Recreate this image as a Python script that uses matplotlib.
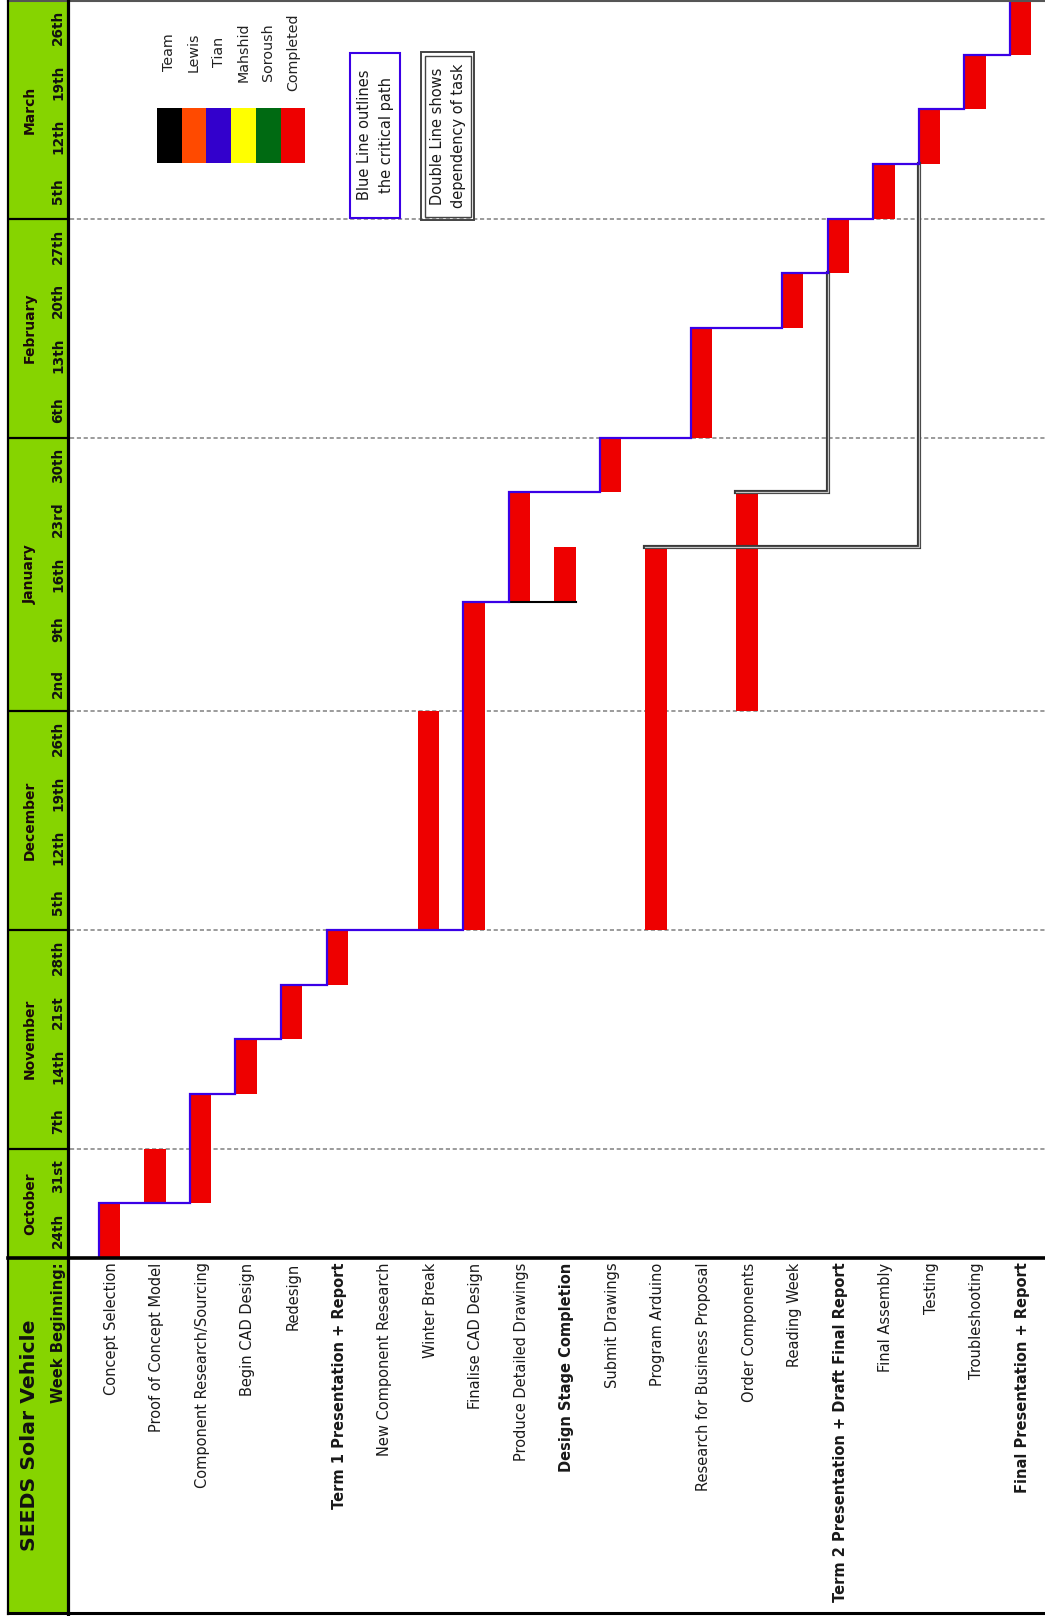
import numpy as np
import matplotlib.pyplot as plt
from matplotlib.patches import Rectangle

# data
months = ['October', 'November', 'December', 'January', 'February', 'March']
month_weeks = [['24th', '31st'],
               ['7th', '14th', '21st', '28th'],
               ['5th', '12th', '19th', '26th'],
               ['2nd', '9th', '16th', '23rd', '30th'],
               ['6th', '13th', '20th', '27th'],
               ['5th', '12th', '19th', '26th']]

tasks = ['Concept Selection', 'Proof of Concept Model', 'Component Research/Sourcing',
         'Begin CAD Design', 'Redesign', 'Term 1 Presentation + Report',
         'New Component Research', 'Winter Break', 'Finalise CAD Design',
         'Produce Detailed Drawings', 'Design Stage Completion', 'Submit Drawings',
         'Program Arduino', 'Research for Business Proposal', 'Order Components',
         'Reading Week', 'Term 2 Presentation + Draft Final Report', 'Final Assembly',
         'Testing', 'Troubleshooting', 'Final Presentation + Report']
start_week = [0, 1, 1, 3, 4, 5, 0, 6, 6, 12, 12, 14, 6, 15, 10, 17, 18, 19, 20, 21, 22]
duration = [1, 1, 2, 1, 1, 1, 0, 4, 6, 2, 1, 1, 7, 2, 4, 1, 1, 1, 1, 1, 1]
milestones = [5, 10, 16, 20]
critical_path = [0, 2, 3, 4, 5, 8, 9, 11, 13, 15, 16, 17, 18, 19, 20]
dependencies = [(12, 18), (14, 16)]

legend_names = ['Team', 'Lewis', 'Tian', 'Mahshid', 'Soroush', 'Completed']
legend_colors = ['#000000', '#ff4a00', '#3300cc', '#ffff00', '#006a12', '#ee0000']

W, H = 1045, 1616
GREEN = '#86d400'
RED = '#ee0000'
BLUE = '#3a00e6'
BAR_W = 0.47


def rect(x0, y0, x1, y1):
    # pixel box (top-left origin) -> figure fraction
    return [x0 / W, 1 - y1 / H, (x1 - x0) / W, (y1 - y0) / H]


fig = plt.figure(figsize=(W / 100, H / 100), dpi=100)

# main chart area
ax = fig.add_axes(rect(70, 0, W, 1258))
ax.set_xlim(-0.867, 20.538)
ax.set_ylim(0, 23)
ax.axis('off')

rows = np.arange(len(tasks))
starts = np.array(start_week, dtype=float)
durs = np.array(duration, dtype=float)
ends = starts + durs
left = rows - BAR_W / 2

bounds = np.cumsum([len(w) for w in month_weeks])
for b in bounds[:-1]:
    ax.axhline(b, color='#8a8a8a', lw=1.2, ls=(0, (2.5, 1.6)), zorder=1)

has = durs > 0
ax.bar(rows[has], durs[has], bottom=starts[has], width=BAR_W, color=RED, zorder=2)

# critical path
px, py = [], []
for t in critical_path:
    px += [left[t], left[t]]
    py += [starts[t], ends[t]]
ax.plot(px, py, color=BLUE, lw=1.6, zorder=4, solid_joinstyle='miter')

# black link under drawings / design stage
ax.plot([left[9], left[10] + BAR_W], [starts[9], starts[9]], color='black', lw=1.5, zorder=3.5)

# double dependency lines
for a, b in dependencies:
    xs = [left[a], left[b], left[b]]
    ys = [ends[a], ends[a], starts[b]]
    ax.plot(xs, ys, color='#3a3a3a', lw=3.0, zorder=3, solid_joinstyle='miter')
    ax.plot(xs, ys, color='#c4c4c4', lw=0.9, zorder=3.1, solid_joinstyle='miter')

# task labels
for i, name in enumerate(tasks):
    ax.text(i + 0.04, -0.08, name, rotation=90, ha='center', va='top',
            fontsize=10.5, color='#1a1a1a',
            fontweight='bold' if i in milestones else 'normal', clip_on=False)

# header column with months and weeks
hax = fig.add_axes(rect(8, 0, 68, 1258))
hax.set_facecolor(GREEN)
hax.set_xlim(0, 60)
hax.set_ylim(0, 23)
hax.set_xticks([])
hax.set_yticks([])
for s in hax.spines.values():
    s.set_visible(False)
k = 0
for m, wk in zip(months, month_weeks):
    hax.text(22, k + len(wk) / 2, m, rotation=90, ha='center', va='center',
             fontsize=10, fontweight='bold', color='#1a0a0a')
    for w in wk:
        hax.text(50, k + 0.5, w, rotation=90, ha='center', va='center',
                 fontsize=9.8, fontweight='bold', color='#111111')
        k += 1
for b in bounds[:-1]:
    hax.axhline(b, color='black', lw=1.6)

# title cell
tax = fig.add_axes(rect(8, 1258, 68, 1613))
tax.set_facecolor(GREEN)
tax.set_xlim(0, 60)
tax.set_ylim(355, 0)
tax.set_xticks([])
tax.set_yticks([])
for s in tax.spines.values():
    s.set_visible(False)
tax.text(22, 177, 'SEEDS Solar Vehicle', rotation=90, ha='center', va='center',
         fontsize=14.7, fontweight='bold', color='#111111')
tax.text(50, 4, 'Week Beginning:', rotation=90, ha='center', va='top',
         fontsize=10.6, fontweight='bold', color='#111111')

# overlay for borders, legend and notes
ov = fig.add_axes([0, 0, 1, 1], facecolor='none')
ov.set_xlim(0, W)
ov.set_ylim(H, 0)
ov.axis('off')
ov.plot([8, W], [1, 1], color='#555555', lw=1.5)
ov.plot([8, W], [1613, 1613], color='black', lw=2.2)
ov.plot([8, 8], [0, 1614], color='black', lw=1.6)
ov.plot([68, 68], [0, 1614], color='black', lw=2.3)
ov.plot([8, W], [1258, 1258], color='black', lw=2.6)

for k, (n, c) in enumerate(zip(legend_names, legend_colors)):
    x0 = 157 + k * 24.7
    ov.add_patch(Rectangle((x0, 108), 24.7, 55, facecolor=c, edgecolor='none'))
    ov.text(x0 + 12.3, 52, n, rotation=90, ha='center', va='center',
            fontsize=10.3, color='#222222')

ov.add_patch(Rectangle((350, 53), 50, 165, fill=False, edgecolor=BLUE, lw=1.5))
ov.text(375.5, 135, 'Blue Line outlines\nthe critical path', rotation=90,
        ha='center', va='center', multialignment='center', linespacing=1.6,
        fontsize=10.5, color='#1a1a1a')
ov.add_patch(Rectangle((421, 52), 53, 168, fill=False, edgecolor='#444444', lw=1.4))
ov.add_patch(Rectangle((424.5, 55.5), 46, 161, fill=False, edgecolor='#444444', lw=1.0))
ov.text(448, 136, 'Double Line shows\ndependency of task', rotation=90,
        ha='center', va='center', multialignment='center', linespacing=1.45,
        fontsize=10.5, color='#1a1a1a')

fig.savefig('out.png', dpi=100)
